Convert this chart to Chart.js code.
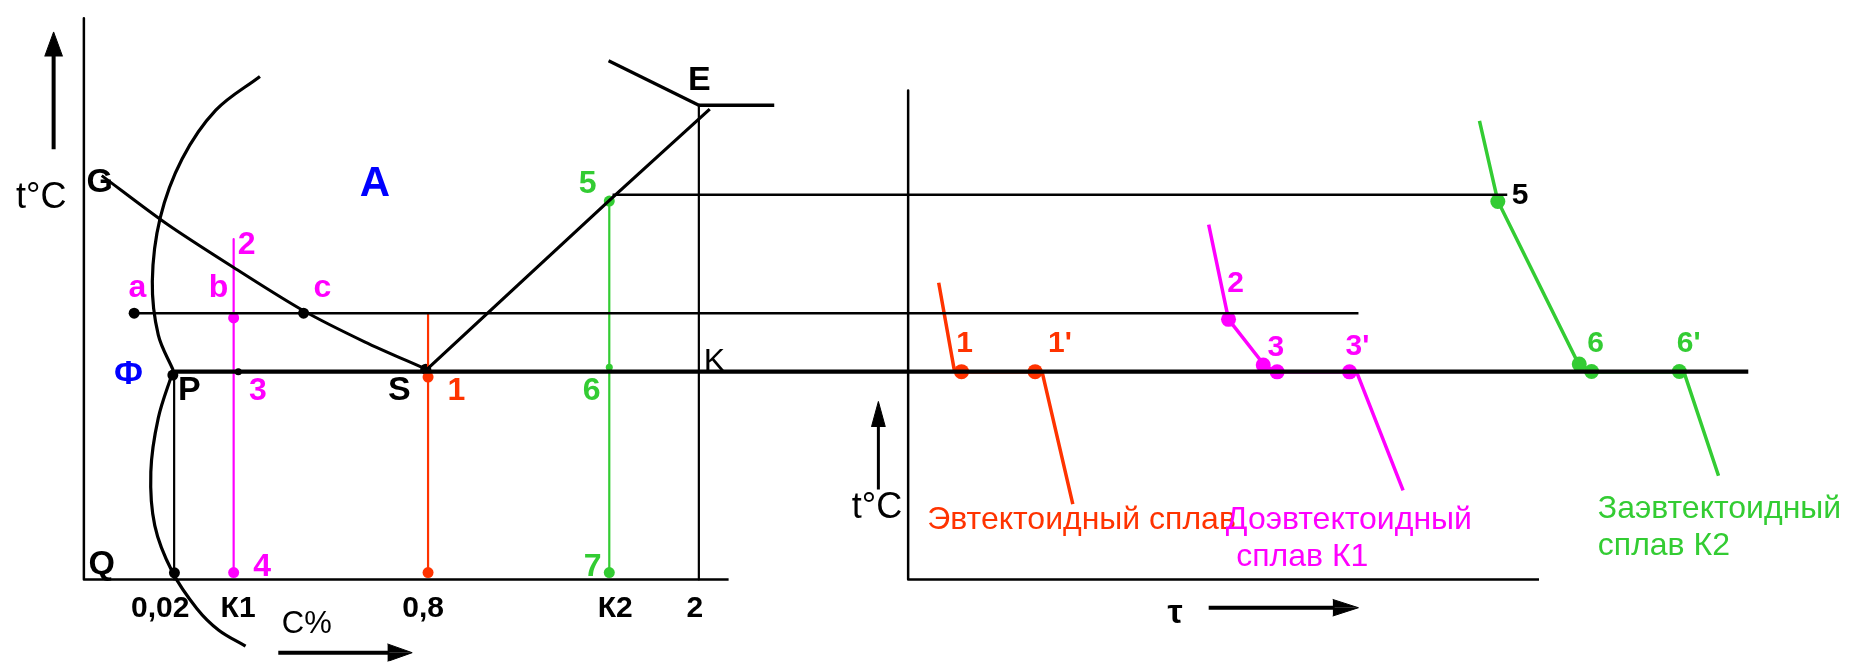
<!DOCTYPE html>
<html>
<head>
<meta charset="utf-8">
<script src="https://cdn.jsdelivr.net/npm/chart.js@4.4.1/dist/chart.umd.min.js"></script>
<style>
  html, body { margin: 0; padding: 0; background: #fff; }
  canvas { display: block; }
</style>
</head>
<body>
<canvas id="c" width="1851" height="669"></canvas>
<script>
// Iron-carbon (steel corner) diagram + cooling curves
// diagram units: x = composition / time axis, y = temperature (drawn downwards)

// --- left diagram: phase lines ---
const axisLeft  = [[77, 11], [77, 585], [727, 585]];
const axisRight = [[908, 85], [908, 585], [1544, 585]];
const lineGS = [[95, 172], [160, 221], [228, 266], [298, 310], [360, 342], [422, 370]];
const lineES = [[422, 371], [606, 198], [708, 104]];
const lineE  = [[606, 54.5], [697, 100]];
const lineEF = [[697, 100], [773, 100]];
const arcGP  = [[254.5, 70.5], [210, 105], [176, 155], [154, 215], [146, 280], [152, 335], [167, 371]];
const arcPQ  = [[166.5, 373], [152, 420], [144.5, 475], [148.5, 530], [166, 577], [191, 615], [213, 637], [240, 653.3]];
const lineP  = [[168, 372], [168, 585]];
const line2  = [[697, 100], [697, 585]];
const linePSK = [[166, 372.5], [1755, 372.5]];
const lineAC = [[128, 312.7], [1362, 312.7]];
const line5  = [[610, 191.5], [1512, 191.5]];

// --- alloy verticals ---
const k1Line  = [[228, 237], [228, 578]];
const eutLine = [[424, 313], [424, 578]];
const k2Line  = [[606.7, 198], [606.7, 578]];
const k1Dots  = [[228, 317.5], [228, 578]];
const eutDots = [[424, 378], [424, 578]];
const k2Dots  = [[606.7, 198], [606.7, 578]];
const k2Small = [[606.7, 368]];
const blackDots = [[127.7, 312.7], [298.5, 312.7], [166.7, 376], [421.7, 370], [168.3, 578.3]];
const blackSmall = [[232.7, 372.5]];

// --- cooling curves ---
const curveEut = [[938.8, 281.6], [954.8, 372.5], [1043, 372.5], [1074, 508]];
const curveEutDots = [[961.8, 372.5], [1036, 372.5]];
const curveK1 = [[1211, 222], [1231, 319], [1268, 367], [1280, 372.5], [1360, 372.5], [1407, 494]];
const curveK1Dots = [[1231, 319], [1266, 365.7], [1280, 372.7], [1353, 372.7]];
const curveK2 = [[1484, 116], [1502.5, 198], [1584, 365], [1597, 372.5], [1690, 372.5], [1725, 479]];
const curveK2Dots = [[1502.5, 198.4], [1584.6, 364.8], [1597, 372.4], [1685.5, 372.4]];

// --- arrows: shaft, head halves ---
const arrowT1 = [[46.5, 145], [46.5, 48]];
const arrowT1Head = [[37.5, 50], [46.5, 25], [55.5, 50]];
const arrowT2 = [[878, 493], [878, 427]];
const arrowT2Head = [[871, 429], [878, 403], [885, 429]];
const arrowC = [[273, 660], [385, 660]];
const arrowCHeadA = [[383, 651], [408, 660]];
const arrowCHeadB = [[383, 669], [408, 660]];
const arrowTau = [[1211, 614], [1338, 614]];
const arrowTauHeadA = [[1336, 605.5], [1362, 614]];
const arrowTauHeadB = [[1336, 622.5], [1362, 614]];

// --- labels [text, x, baseline] ---
const blackLabels = [['G', 93, 189], ['E', 697.5, 84.3], ['P', 183.3, 401.7], ['S', 395, 401.7], ['Q', 95, 580]];
const blueLabels = [['A', 370.3, 192.7, 42], ['Ф', 122, 385, 34]];
const k1Labels = [['2', 241, 252], ['a', 131, 296.5], ['b', 212.8, 296.5], ['c', 317.5, 296.5], ['3', 252.5, 401.7], ['4', 256.7, 581.7]];
const eutLabels = [['1', 452.5, 401.7]];
const k2Labels = [['5', 585, 190], ['6', 589, 401.7], ['7', 590, 582]];
const tickLabels = [['0,02', 154, 623.5], ['К1', 232.5, 623.5], ['0,8', 419, 623.5], ['К2', 612.7, 623.5], ['2', 693, 623.5]];
const coolEutLabels = [['1', 965, 352], ["1'", 1061, 352]];
const coolK1Labels = [['2', 1238, 290.7], ['3', 1278.7, 356.7], ["3'", 1361, 355]];
const coolK2Labels = [['6', 1601, 352], ["6'", 1695, 352]];
const coolBlackLabels = [['5', 1525, 200.5]];
const axisTitles = [['t°C', 34, 205.5], ['t°C', 876.6, 522], ['C%', 301.7, 640]];
const captions = [
  ['Эвтектоидный сплав', 927.3, 533.3, '#ff3300'],
  ['Доэвтектоидный', 1228.3, 533.3, '#ff00ff'],
  ['сплав К1', 1238.8, 571.7, '#ff00ff'],
  ['Заэвтектоидный', 1603.3, 521.7, '#33cc33'],
  ['сплав К2', 1603.3, 560, '#33cc33']
];

const RED = '#ff3300', MAG = '#ff00ff', GRN = '#33cc33', BLUE = '#0000ff';
const FONT = '"Liberation Sans", Arial, sans-serif';

const pts = a => a.map(p => ({ x: p[0], y: p[1] }));

function line(data, color, width, extra) {
  return Object.assign({ data: pts(data), borderColor: color, borderWidth: width, pointRadius: 0,
    fill: false, tension: 0, borderCapStyle: 'butt', borderJoinStyle: 'round' }, extra || {});
}
function dots(data, color, r) {
  return { data: pts(data), showLine: false, pointRadius: r, pointBackgroundColor: color,
    pointBorderColor: color, pointBorderWidth: 0 };
}
function head(data, fillY) {
  return { data: pts(data), borderColor: '#000', borderWidth: 1, pointRadius: 0,
    backgroundColor: '#000', fill: { value: fillY } };
}

const datasets = [
  line(axisLeft, '#000', 2.5), line(axisRight, '#000', 2.5),
  line(lineGS, '#000', 3, { tension: 0.3 }),
  line(lineES, '#000', 3.2, { tension: 0.15 }),
  line(lineE, '#000', 3.2), line(lineEF, '#000', 3.5),
  line(arcGP, '#000', 3.2, { tension: 0.35 }),
  line(arcPQ, '#000', 3.2, { tension: 0.35 }),
  line(lineP, '#000', 2.2), line(line2, '#000', 2.2),
  line(lineAC, '#000', 2.5), line(line5, '#000', 2.5),
  line(linePSK, '#000', 4.2),
  line(k1Line, MAG, 2.2), line(eutLine, RED, 2.2), line(k2Line, GRN, 2.2),
  line(curveEut, RED, 3.5), line(curveK1, MAG, 3.5), line(curveK2, GRN, 3.5),
  dots(k1Dots, MAG, 5.5), dots(eutDots, RED, 5.5), dots(k2Dots, GRN, 5.5), dots(k2Small, GRN, 3.5),
  dots(blackDots, '#000', 5.5), dots(blackSmall, '#000', 3.5),
  dots(curveEutDots, RED, 7.5), dots(curveK1Dots, MAG, 7.5), dots(curveK2Dots, GRN, 7.5),
  line(arrowT1, '#000', 4), head(arrowT1Head, 50),
  line(arrowT2, '#000', 3), head(arrowT2Head, 429),
  line(arrowC, '#000', 4), head(arrowCHeadA, 660), head(arrowCHeadB, 660),
  line(arrowTau, '#000', 4), head(arrowTauHeadA, 614), head(arrowTauHeadB, 614)
];

const textPlugin = {
  id: 'texts',
  afterDatasetsDraw(chart) {
    const { ctx, scales: { x, y } } = chart;
    const put = (list, color, font, align) => {
      ctx.save();
      ctx.fillStyle = color;
      ctx.textAlign = align || 'center';
      ctx.textBaseline = 'alphabetic';
      list.forEach(l => {
        ctx.font = typeof font === 'function' ? font(l) : font;
        if (l[3] && typeof l[3] === 'string') ctx.fillStyle = l[3];
        ctx.fillText(l[0], x.getPixelForValue(l[1]), y.getPixelForValue(l[2]));
      });
      ctx.restore();
    };
    put(blackLabels, '#000', 'bold 34px ' + FONT);
    put(blueLabels, BLUE, l => 'bold ' + l[3] + 'px ' + FONT);
    put(k1Labels, MAG, 'bold 32px ' + FONT);
    put(eutLabels, RED, 'bold 32px ' + FONT);
    put(k2Labels, GRN, 'bold 32px ' + FONT);
    put(tickLabels, '#000', 'bold 30px ' + FONT);
    put([['K', 702, 371.7]], '#000', '32px ' + FONT, 'left');
    put(coolEutLabels, RED, 'bold 30px ' + FONT);
    put(coolK1Labels, MAG, 'bold 30px ' + FONT);
    put(coolK2Labels, GRN, 'bold 30px ' + FONT);
    put(coolBlackLabels, '#000', 'bold 30px ' + FONT);
    put(axisTitles, '#000', l => (l[0] === 'C%' ? '31px ' : '36px ') + FONT);
    put([['τ', 1177, 630]], '#000', 'bold 34px ' + FONT);
    put(captions, '#000', '32px ' + FONT, 'left');
  }
};

new Chart(document.getElementById('c'), {
  type: 'line',
  data: { datasets },
  options: {
    responsive: false,
    animation: false,
    devicePixelRatio: 1,
    layout: { padding: 0 },
    plugins: { legend: { display: false }, tooltip: { enabled: false } },
    scales: {
      x: { type: 'linear', min: 0, max: 1851, display: false },
      y: { type: 'linear', min: 0, max: 669, reverse: true, display: false }
    }
  },
  plugins: [textPlugin]
});
</script>
</body>
</html>
